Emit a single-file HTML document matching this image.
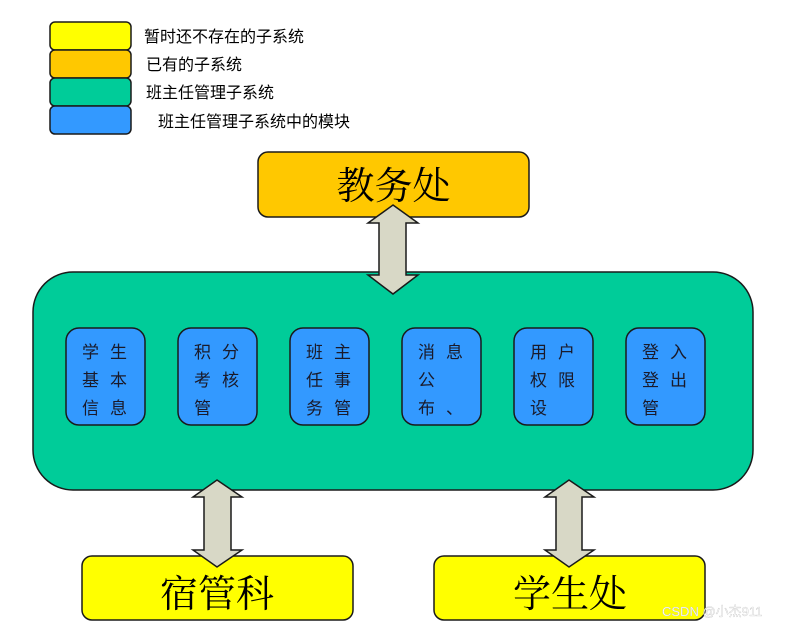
<!DOCTYPE html>
<html><head><meta charset="utf-8"><style>
html,body{margin:0;padding:0;background:#fff;}
svg{display:block;}
.lg{font-family:"Liberation Sans","Noto Sans CJK SC",sans-serif;font-size:16px;fill:#000;}
.md{font-family:"Liberation Sans","Noto Sans CJK SC",sans-serif;font-size:17px;fill:#1a1a2a;}
.big{font-family:"Liberation Serif","Noto Serif CJK SC",serif;font-size:38px;fill:#000;}
</style></head><body>
<svg width="790" height="627" viewBox="0 0 790 627" xmlns="http://www.w3.org/2000/svg">
<g stroke="#1a1a1a" stroke-width="1.5">
<rect x="50" y="22" width="81" height="28" rx="5" fill="#FFFF00"/>
<rect x="50" y="50" width="81" height="28" rx="5" fill="#FFC800"/>
<rect x="50" y="78" width="81" height="28" rx="5" fill="#00CC99"/>
<rect x="50" y="106" width="81" height="28" rx="5" fill="#3399FF"/>
</g>
<text class="lg" x="144" y="42">暂时还不存在的子系统</text>
<text class="lg" x="146" y="70">已有的子系统</text>
<text class="lg" x="146" y="98">班主任管理子系统</text>
<text class="lg" x="158" y="127">班主任管理子系统中的模块</text>

<rect x="258" y="152" width="271" height="65" rx="10" fill="#FFC800" stroke="#1a1a1a" stroke-width="1.5"/>
<text class="big" x="393.5" y="199" text-anchor="middle">教务处</text>

<rect x="33" y="272" width="720" height="218" rx="40" fill="#00CC99" stroke="#1a1a1a" stroke-width="1.5"/>

<g stroke="#1a1a1a" stroke-width="1.5" fill="#3399FF">
<rect x="66" y="328" width="79" height="97" rx="13"/>
<rect x="178" y="328" width="79" height="97" rx="13"/>
<rect x="290" y="328" width="79" height="97" rx="13"/>
<rect x="402" y="328" width="79" height="97" rx="13"/>
<rect x="514" y="328" width="79" height="97" rx="13"/>
<rect x="626" y="328" width="79" height="97" rx="13"/>
</g>
<g class="md">
<text x="82" y="358">学</text><text x="110" y="358">生</text>
<text x="82" y="386">基</text><text x="110" y="386">本</text>
<text x="82" y="414">信</text><text x="110" y="414">息</text>
<text x="194" y="358">积</text><text x="222" y="358">分</text>
<text x="194" y="386">考</text><text x="222" y="386">核</text>
<text x="194" y="414">管</text>
<text x="306" y="358">班</text><text x="334" y="358">主</text>
<text x="306" y="386">任</text><text x="334" y="386">事</text>
<text x="306" y="414">务</text><text x="334" y="414">管</text>
<text x="418" y="358">消</text><text x="446" y="358">息</text>
<text x="418" y="386">公</text>
<text x="418" y="414">布</text><text x="446" y="414">、</text>
<text x="530" y="358">用</text><text x="558" y="358">户</text>
<text x="530" y="386">权</text><text x="558" y="386">限</text>
<text x="530" y="414">设</text>
<text x="642" y="358">登</text><text x="670" y="358">入</text>
<text x="642" y="386">登</text><text x="670" y="386">出</text>
<text x="642" y="414">管</text>
</g>

<rect x="82" y="556" width="271" height="64" rx="10" fill="#FFFF00" stroke="#1a1a1a" stroke-width="1.5"/>
<text class="big" x="217" y="607" text-anchor="middle">宿管科</text>
<rect x="434" y="556" width="271" height="64" rx="10" fill="#FFFF00" stroke="#1a1a1a" stroke-width="1.5"/>
<text class="big" x="570" y="607" text-anchor="middle">学生处</text>
<text x="662" y="616" font-family="Liberation Sans,Noto Sans CJK SC,sans-serif" font-size="13" fill="#fff" stroke="#bbb" stroke-width="0.3">CSDN @小杰911</text>

<g fill="#D8D8C6" stroke="#1a1a1a" stroke-width="1.5" stroke-linejoin="miter">
<polygon points="393,205 418,223 406,223 406,275 418,275 393,294 368,275 379,275 379,223 368,223"/>
<polygon points="217,480 242,497 231,497 231,550 242,550 217,567 193,550 204,550 204,497 193,497"/>
<polygon points="569,480 594,497 582,497 582,550 594,550 569,567 545,550 556,550 556,497 545,497"/>
</g>
</svg>
</body></html>
